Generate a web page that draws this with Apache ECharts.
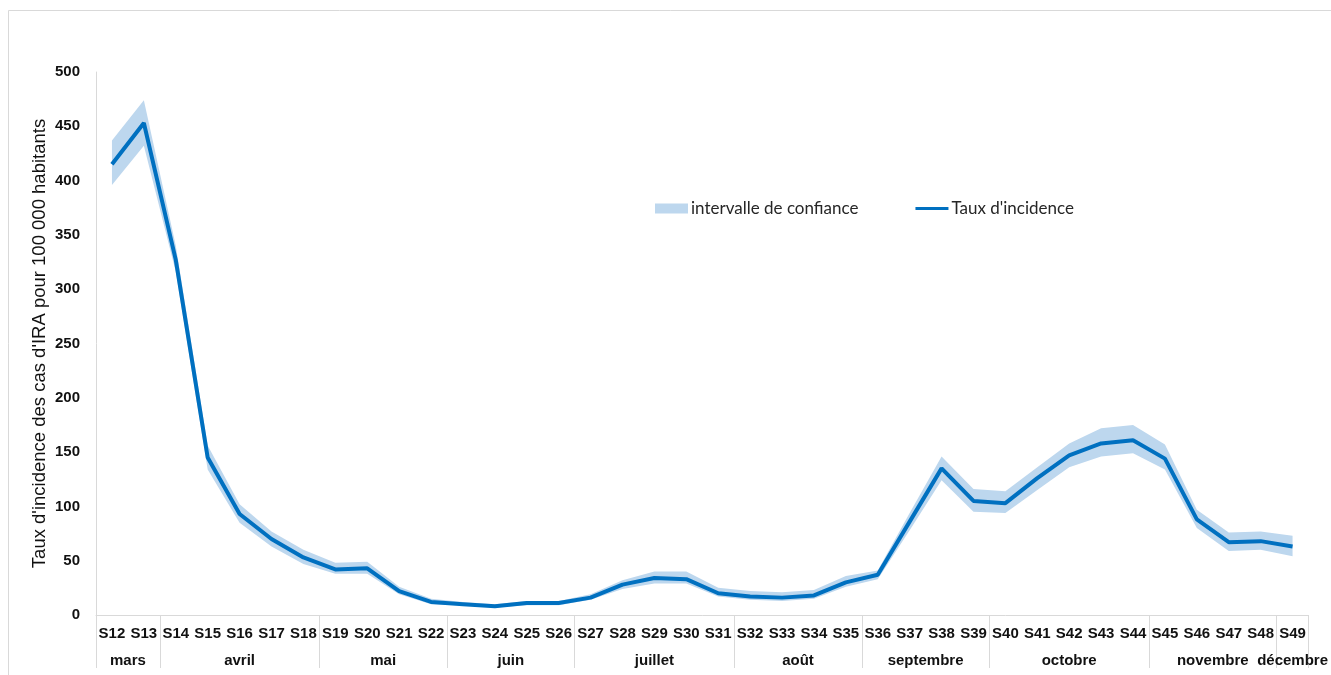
<!DOCTYPE html>
<html>
<head>
<meta charset="utf-8">
<script src="https://cdn.jsdelivr.net/npm/echarts@6/dist/echarts.min.js"></script>
<style>
html,body{margin:0;padding:0;background:#fff;}
#chart{width:1331px;height:675px;}
</style>
</head>
<body>
<div id="chart"></div>
<script>
// ---- data ----
const weeks = ['S12','S13','S14','S15','S16','S17','S18','S19','S20','S21','S22','S23','S24','S25','S26','S27','S28','S29','S30','S31','S32','S33','S34','S35','S36','S37','S38','S39','S40','S41','S42','S43','S44','S45','S46','S47','S48','S49'];
const rate  = [415,453,327,145,93,70,53,42,43,22,12,10,8,11,11,16,28,34,33,20,17,16,18,30,37,86,135,105,103,126,147,158,161,144,88,67,68,63];
const lower = [396,432,316,134,85,63,47,38,38,19,10,9,7,9,9,14,24,29,29,17,14,13,15,26,33,78,124,95,94,115,136,146,149,134,80,59,60,54];
const upper = [437,474,340,156,102,77,60,48,49,26,15,12,10,13,13,19,32,40,40,25,22,21,23,36,41,94,146,116,114,136,158,172,175,157,97,76,77,73];
const monthNames = ['mars','avril','mai','juin','juillet','août','septembre','octobre','novembre','décembre'];
const monthWeeks = [2,5,4,4,5,4,4,5,4,1];
const yTicks = [0,50,100,150,200,250,300,350,400,450,500];

// ---- derived ----
const bandWidth = upper.map((u,i)=>u-lower[i]);
const monthStarts = new Set();
const monthCenters = {};
let acc = 0;
monthWeeks.forEach((n,i)=>{ monthStarts.add(acc); monthCenters[String(acc + n/2)] = monthNames[i]; acc += n; });

const chart = echarts.init(document.getElementById('chart'), null, {renderer:'canvas'});
const labelFont = 'Liberation Sans, Arial, sans-serif';
chart.setOption({
  animation:false,
  backgroundColor:'#fff',
  graphic:[{type:'rect', shape:{x:8.5,y:10.5,width:1340,height:700}, style:{fill:'none', stroke:'#d9d9d9', lineWidth:1}, silent:true}],
  grid:{left:96, right:19, top:72, bottom:60, containLabel:false},
  legend:{
    left:655, top:200, padding:0, itemWidth:33, itemHeight:10, itemGap:57,
    textStyle:{fontFamily:'Lato, sans-serif', fontSize:17, color:'#262626', padding:[0,0,0,-2]},
    data:[
      {name:'intervalle de confiance', icon:'rect', itemStyle:{color:'#bdd7ee'}},
      {name:"Taux d'incidence", icon:'path://M0,0L0.01,0M0,10L0.01,10M0,3.4L35,3.4L35,6.6L0,6.6Z', itemStyle:{color:'#0070c0', borderWidth:0}}
    ]
  },
  xAxis:[
    {
      type:'category', data:weeks, boundaryGap:true,
      axisLine:{show:true, lineStyle:{color:'#d9d9d9', width:1}},
      axisTick:{show:true, length:53, interval:(idx)=>monthStarts.has(idx), lineStyle:{color:'#d9d9d9', width:1}},
      axisLabel:{interval:0, margin:11, fontFamily:labelFont, fontWeight:'bold', fontSize:15, color:'#111'}
    },
    {
      type:'value', min:0, max:acc, interval:0.5, position:'bottom', offset:27,
      axisLine:{show:false}, axisTick:{show:false}, splitLine:{show:false},
      axisLabel:{margin:11, fontFamily:labelFont, fontWeight:'bold', fontSize:15, color:'#111',
        showMinLabel:true, showMaxLabel:true,
        formatter:(v)=>monthCenters[String(v)] || ''}
    }
  ],
  yAxis:{
    type:'value', min:yTicks[0], max:yTicks[yTicks.length-1], interval:yTicks[1]-yTicks[0],
    name:"Taux d'incidence des cas d'IRA pour 100 000 habitants",
    nameLocation:'middle', nameGap:47, nameMoveOverlap:false,
    nameTextStyle:{fontFamily:labelFont, fontSize:18.5, color:'#111'},
    axisLine:{show:true, lineStyle:{color:'#d9d9d9', width:1}},
    axisTick:{show:false}, splitLine:{show:false},
    axisLabel:{margin:16, fontFamily:labelFont, fontWeight:'bold', fontSize:15, color:'#111'}
  },
  series:[
    {name:'ci_base', type:'line', stack:'ci', data:lower, symbol:'none', lineStyle:{opacity:0}, silent:true, z:1},
    {name:'intervalle de confiance', type:'line', stack:'ci', data:bandWidth, symbol:'none',
     lineStyle:{opacity:0, width:0}, areaStyle:{color:'#bdd7ee', opacity:1}, itemStyle:{color:'#bdd7ee'}, z:1},
    {name:"Taux d'incidence", type:'line', data:rate, symbol:'none',
     lineStyle:{color:'#0070c0', width:4}, itemStyle:{color:'#0070c0'}, z:3}
  ]
});
</script>
</body>
</html>
